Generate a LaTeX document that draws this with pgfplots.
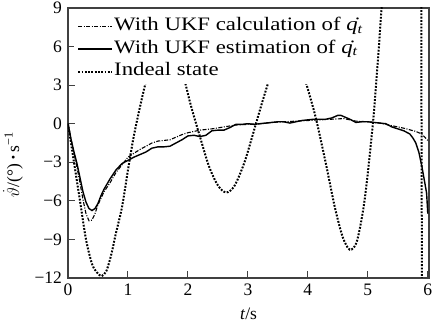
\documentclass[border=0pt]{standalone}
\usepackage{pgfplots}
\pgfplotsset{compat=1.18}
\usepackage{fontspec}
\setmainfont{Liberation Serif}
\newfontfamily\legfont[FakeStretch=1.2]{Liberation Serif}
\begin{document}
\fontsize{17.5}{20}\selectfont
\begin{tikzpicture}
\useasboundingbox (-68pt,-45pt) rectangle (367pt,278pt);
\begin{axis}[
  at={(0pt,0pt)}, anchor=south west,
  scale only axis, width=361pt, height=270pt,
  xmin=0, xmax=6.02, ymin=-12, ymax=9,
  xtick={0,1,2,3,4,5,6},
  ytick={-12,-9,-6,-3,0,3,6,9},
  yticklabels={−12,−9,−6,−3,0,3,6,9},
  /pgf/number format/assume math mode=true,
  tick pos=left, tick align=inside,
  major tick length=7pt,
  tick style={line width=1pt, black!75},
  axis line style={line width=1.2pt, black!75},
  ticklabel style={font=\fontsize{17.5}{20}\selectfont},
  xlabel={\textit{t}/s},
  ylabel={$\dot{\vartheta}$/(°)\,{\bfseries·}\,s\textsuperscript{−1}},
  label style={font=\fontsize{17.5}{20}\selectfont},
  every axis y label/.style={at={(ticklabel cs:0.42)}, rotate=90, anchor=near ticklabel},
  clip=true,
  legend cell align=left,
  legend style={at={(0,1)}, anchor=north west, xshift=6pt, yshift=-6pt,
    draw=none, fill=white, inner sep=3pt, row sep=3.5pt,
    font=\legfont\fontsize{19}{20}\selectfont,
    nodes={inner sep=1pt, text height=12.5pt, text depth=4.5pt}},
  legend image code/.code={\draw[#1] (0pt,0pt) -- (34pt,0pt);},
]
\addplot[black, line width=1.1pt, dash pattern=on 4pt off 1.5pt on 1pt off 1.5pt] coordinates {
(0,0) (0.05,-1.2) (0.1,-2.3) (0.15,-3.4) (0.2,-4.6) (0.25,-5.9) (0.3,-7.0) (0.35,-7.55) (0.4,-7.5) (0.45,-7.0) (0.5,-6.3) (0.55,-5.8) (0.6,-5.3) (0.7,-4.6) (0.8,-3.8) (0.9,-3.2) (1.0,-2.6) (1.1,-2.3) (1.2,-2.0) (1.3,-1.75) (1.4,-1.5) (1.5,-1.35) (1.6,-1.3) (1.7,-1.25) (1.8,-1.05) (1.9,-0.85) (2.0,-0.7) (2.2,-0.5) (2.4,-0.4) (2.6,-0.25) (2.8,-0.1) (3.0,-0.05) (3.2,0.0) (3.4,0.1) (3.6,0.15) (3.8,0.2) (4.0,0.25) (4.2,0.3) (4.4,0.35) (4.6,0.4) (4.8,0.2) (5.0,0.15) (5.2,0.05) (5.4,-0.15) (5.6,-0.35) (5.8,-0.6) (5.9,-0.8) (6.0,-1.3)
};
\addlegendentry{With UKF calculation of \.{\textit{q}}\textsubscript{\textit{t}}}
\addplot[black, line width=1.4pt] coordinates {
(0,0) (0.05,-1.2) (0.1,-2.2) (0.15,-3.1) (0.2,-4.2) (0.25,-5.3) (0.3,-6.1) (0.35,-6.6) (0.4,-6.75) (0.45,-6.6) (0.5,-6.2) (0.55,-5.6) (0.6,-5.1) (0.65,-4.7) (0.7,-4.3) (0.8,-3.6) (0.9,-3.1) (1.0,-2.85) (1.1,-2.6) (1.2,-2.4) (1.3,-2.2) (1.4,-1.9) (1.5,-1.8) (1.6,-1.8) (1.7,-1.75) (1.8,-1.5) (1.9,-1.25) (2.0,-0.95) (2.1,-0.9) (2.2,-1.0) (2.3,-0.9) (2.4,-0.55) (2.5,-0.5) (2.6,-0.5) (2.7,-0.3) (2.8,-0.05) (2.9,-0.05) (3.0,0.0) (3.1,-0.05) (3.2,0.0) (3.3,0.05) (3.4,0.1) (3.5,0.15) (3.6,0.15) (3.7,0.05) (3.8,0.15) (3.9,0.25) (4.0,0.3) (4.1,0.35) (4.2,0.35) (4.3,0.35) (4.4,0.45) (4.5,0.65) (4.55,0.65) (4.6,0.55) (4.7,0.35) (4.8,0.1) (4.9,0.15) (5.0,0.15) (5.1,0.1) (5.2,0.05) (5.3,0.0) (5.4,-0.25) (5.5,-0.4) (5.6,-0.55) (5.7,-0.8) (5.75,-1.1) (5.8,-1.5) (5.85,-2.2) (5.9,-3.3) (5.95,-4.6) (5.98,-5.4) (6.0,-7.0)
};
\addlegendentry{With UKF estimation of \.{\textit{q}}\textsubscript{\textit{t}}}
\addplot[black, line width=2pt, dash pattern=on 1.8pt off 1.5pt, smooth] coordinates {
(0,0) (0.1,-3.0) (0.2,-6.0) (0.3,-9.0) (0.4,-10.9) (0.48,-11.55) (0.56,-11.85) (0.64,-11.45) (0.72,-10.2) (0.8,-8.5) (0.9,-6.5) (1.0,-3.6) (1.05,-2.2) (1.1,-0.9) (1.2,1.3) (1.33,3.9) (1.45,6.0) (1.6,7.2) (1.75,6.5) (1.92,3.8) (2.05,1.4) (2.2,-1.0) (2.35,-3.3) (2.5,-4.8) (2.64,-5.35) (2.78,-4.8) (2.95,-2.9) (3.14,0.1) (3.26,2.0) (3.39,3.9) (3.52,5.4) (3.66,5.9) (3.8,5.3) (3.92,3.9) (4.03,2.2) (4.14,0.3) (4.3,-3.1) (4.45,-6.5) (4.58,-8.8) (4.7,-9.8) (4.82,-9.1) (4.95,-5.8) (5.09,0.3) (5.17,5.1) (5.23,9.0) (5.3,13) (5.4,18) (5.6,22) (5.8,22) (5.88,18) (5.895,0) (5.905,-20)
};
\addlegendentry{Indeal state}
\end{axis}
\end{tikzpicture}
\end{document}
